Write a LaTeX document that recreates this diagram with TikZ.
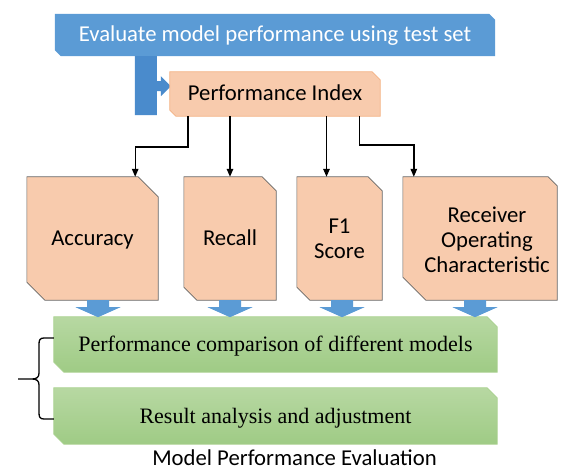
\documentclass[tikz,border=0pt]{standalone}
\usepackage{fontspec}
\setmainfont{Liberation Serif}
\setsansfont{Carlito}
\usetikzlibrary{arrows.meta,positioning}
\pgfdeclarelayer{bg}
\pgfsetlayers{bg,main}

\definecolor{topblue}{HTML}{5B9BD5}
\definecolor{barblue}{HTML}{4A8BCC}
\definecolor{peach}{HTML}{F8CBAD}
\definecolor{peachedge}{HTML}{F4B183}
\definecolor{greentop}{HTML}{B7D8A2}
\definecolor{greenbot}{HTML}{9FCB85}
\definecolor{greenedge}{HTML}{A9D18E}

% outline of a box with the top right and bottom left corners cut off
\newcommand{\snip}[3]{(#1.north west) -- ([xshift=-#2]#1.north east) -- ([yshift=-#2]#1.north east) -- (#1.south east) -- ([xshift=#3]#1.south west) -- ([yshift=#3]#1.south west) -- cycle}
% wide blue arrow pointing down
\newcommand{\blockdown}[1]{\fill[topblue] (#1) ++(-11,0) -- ++(22,0) -- ++(0,7) -- ++(11.5,0) -- ++(-22.5,10) -- ++(-22.5,-10) -- ++(11.5,0) -- cycle;}

\tikzset{
  box/.style={inner sep=0pt, align=center, font=\sffamily\fontsize{22.7}{25}\selectfont},
  oneline/.style={text height=15pt, text depth=1pt},
  serifbox/.style={inner sep=0pt, oneline, font=\rmfamily\fontsize{22}{26}\selectfont},
  metric/.style={fill=peach, draw=black!60, line width=0.6pt},
  link/.style={line width=1.4pt, -{Triangle[length=8pt,width=6.5pt]}},
}

\begin{document}
\begin{tikzpicture}[x=1pt,y=-1pt]
\useasboundingbox (0,0) rectangle (561,470);

\node[box, oneline, text=white, minimum width=440pt, minimum height=42pt] (eval) at (275,35) {Evaluate model performance using test set};
\node[box, oneline, minimum width=210pt, minimum height=44pt] (pidx) at (275,94) {Performance Index};

\node[box, oneline, minimum width=131pt, minimum height=123pt] (acc) at (92.5,238.5) {Accuracy};
\node[box, oneline, minimum width=92pt, minimum height=123pt] (rec) at (230,238.5) {Recall};
\node[box, minimum width=85pt, minimum height=123pt] (fone) at (339.5,238.5) {F1\\Score};
\node[minimum width=154pt, minimum height=123pt, inner sep=0pt] (roc) at (480,238.5) {};
\node[box] (roctext) at ([xshift=7pt,yshift=-1pt]roc.center) {Receiver\\Operating\\Characteristic};

\node[serifbox, minimum width=443pt, minimum height=55pt] (cmp) at (275.5,344.5) {Performance comparison of different models};
\node[serifbox, minimum width=443pt, minimum height=56pt] (adj) at (275.5,416) {Result analysis and adjustment};

\node[box, anchor=base] (title) at (294.5,465) {Model Performance Evaluation};

\begin{pgfonlayer}{bg}
\fill[topblue] \snip{eval}{6pt}{6pt};
\fill[barblue] ([xshift=80pt]eval.south west) -- ++(22,0) -- ++(0,25) -- ++(4,0) -- ++(0,-5) -- ++(10,10) -- ++(-10,10) -- ++(0,-5) -- ++(-4,0) -- ++(0,24) -- ++(-22,0) -- cycle;
\filldraw[fill=peach, draw=peachedge, line width=0.8pt] \snip{pidx}{8pt}{6pt};

\filldraw[metric] \snip{acc}{20pt}{18pt};
\filldraw[metric] \snip{rec}{14pt}{13pt};
\filldraw[metric] \snip{fone}{14pt}{13pt};
\filldraw[metric] \snip{roc}{9pt}{23pt};

\path[shade, top color=greentop, bottom color=greenbot, draw=greenedge, line width=0.8pt] \snip{cmp}{10pt}{10pt};
\path[shade, top color=greentop, bottom color=greenbot, draw=greenedge, line width=0.8pt] \snip{adj}{10pt}{10pt};
\end{pgfonlayer}

\coordinate (accin) at ([xshift=-23pt]acc.north east);
\coordinate (fonein) at ([xshift=-13pt]fone.north);
\coordinate (rocin) at ([xshift=11pt]roc.north west);
\draw[link] ([xshift=18pt]pidx.south west) -- ++(0,31) -| (accin);
\draw[link] (pidx.south -| rec.north) -- (rec.north);
\draw[link] (pidx.south -| fonein) -- (fonein);
\draw[link] ([xshift=-21pt]pidx.south east) -- ++(0,29) -| (rocin);

\blockdown{[xshift=5.5pt]acc.south}
\blockdown{rec.south}
\blockdown{[xshift=2.5pt]fone.south}
\blockdown{[xshift=-5pt]roc.south}

\coordinate (bracetop) at ([yshift=6.5pt]cmp.west);
\coordinate (bracebot) at ([yshift=-3pt]adj.west);
\draw[line width=1.3pt] (bracetop) -- (44,338) .. controls (40,338) and (39,340) .. (39,344) -- (39,373) .. controls (39,377) and (37,379) .. (32,379) -- (18,379)
  (32,379) .. controls (37,379) and (39,381) .. (39,385) -- (39,413) .. controls (39,417) and (40,419) .. (44,419) -- (bracebot);

\end{tikzpicture}
\end{document}
